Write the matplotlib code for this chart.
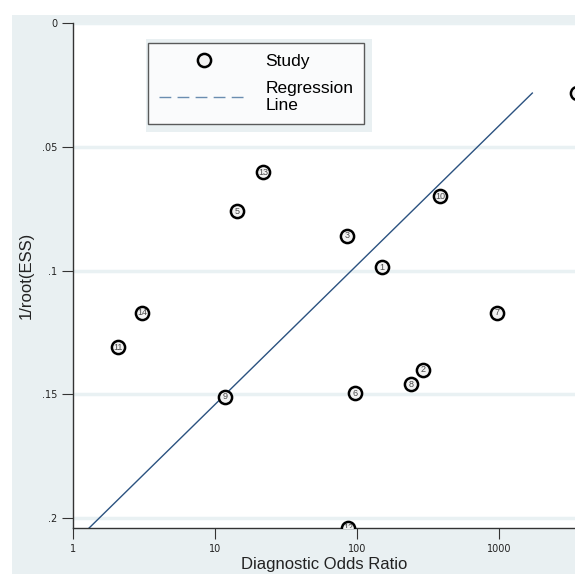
import numpy as np
import matplotlib.pyplot as plt
from matplotlib.lines import Line2D
from matplotlib.patches import Rectangle

plt.rcParams['font.family'] = ['Liberation Sans', 'DejaVu Sans']

# Deeks funnel plot data
study = ['1', '2', '3', '4', '5', '6', '7', '8', '9', '10', '11', '12', '13', '14']
dor = [150, 292, 85, 3550, 14.3, 97, 968, 240, 11.8, 384, 2.07, 86.5, 21.8, 3.06]
inv_ess = [0.0986, 0.140, 0.086, 0.0283, 0.076, 0.1495, 0.117, 0.146, 0.151,
           0.070, 0.131, 0.204, 0.0602, 0.117]

# regression: ln(DOR) = a + b * 1/root(ESS)
reg_a = 8.605
reg_b = -40.9

xticks = [1, 10, 100, 1000]
yticks = [0, 0.05, 0.1, 0.15, 0.2]
ytick_labels = ['0', '.05', '.1', '.15', '.2']

bg = '#e9f0f2'
fig = plt.figure(figsize=(5.75, 5.74), dpi=100)
fig.patches.append(Rectangle((12/575, 0), 1, 1 - 15/574, transform=fig.transFigure,
                             facecolor=bg, edgecolor='none', zorder=-5))

ax = fig.add_axes([73/575, 1 - 528/574, 1 - 73/575, (528 - 23)/574])
ax.set_facecolor('white')
ax.set_xscale('log')
ax.set_xlim(1, 10**3.535)
ax.set_ylim(0.204, 0)

for yt in yticks:
    ax.axhline(yt, color='#e9f1f3', lw=2.5, zorder=1)

# regression line over the range of the data
yy = np.linspace(min(inv_ess), max(inv_ess), 50)
ax.plot(np.exp(reg_a + reg_b * yy), yy, color='#2b5280', lw=1.0, zorder=2)

ax.scatter(dor, inv_ess, s=90, facecolor='#f2f2f2', edgecolor='black',
           linewidth=1.8, zorder=3, clip_on=True)
for s, x, y in zip(study, dor, inv_ess):
    ax.text(x, y, s, fontsize=6.5, color='#4a4a4a', ha='center', va='center',
            zorder=4, clip_on=True)

ax.set_xticks(xticks)
ax.set_xticklabels([str(t) for t in xticks])
ax.minorticks_off()
ax.set_yticks(yticks)
ax.set_yticklabels(ytick_labels)
ax.tick_params(axis='both', labelsize=7, length=8, color='#333333', labelcolor='#222222')
for lab in ax.get_xticklabels() + ax.get_yticklabels():
    lab.set_family('DejaVu Sans')

for side in ['top', 'right']:
    ax.spines[side].set_visible(False)
for side in ['left', 'bottom']:
    ax.spines[side].set_color('#333333')
    ax.spines[side].set_linewidth(1.0)

ax.set_xlabel('Diagnostic Odds Ratio', fontsize=12, labelpad=2, color='#222222')
ax.set_ylabel('1/root(ESS)', fontsize=12, labelpad=6, color='#222222')

# light region behind the legend
ax.add_patch(Rectangle(((146 - 73)/502, 1 - (132 - 23)/505), 226/502, 93/505,
                       transform=ax.transAxes, facecolor=bg, edgecolor='none', zorder=4))

handles = [Line2D([], [], marker='o', ls='none', markersize=9.5, markerfacecolor='#f2f2f2',
                  markeredgecolor='black', markeredgewidth=1.8),
           Line2D([], [], color='#6a8db0', lw=1.0, ls=(0, (8.5, 4.5)))]
leg = ax.legend(handles, ['Study', 'Regression\nLine'], loc='upper left',
                bbox_to_anchor=((148 - 73)/502, 1 - (43 - 23)/505), borderaxespad=0,
                fontsize=12.5, frameon=True, fancybox=False, edgecolor='#333333',
                handlelength=5.2, borderpad=0.62, labelspacing=0.7, handletextpad=0.95)
for t in leg.get_texts():
    t.set_linespacing(1.2)
leg.get_frame().set_linewidth(1.0)
leg.set_zorder(5)

fig.savefig('out.png', dpi=100, facecolor='white')
